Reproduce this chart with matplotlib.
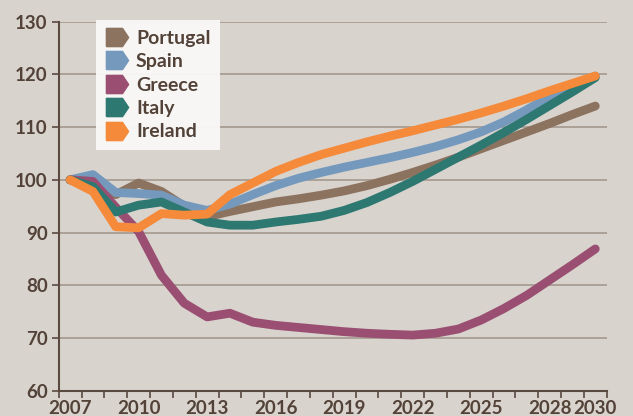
import numpy as np
import matplotlib.pyplot as plt
from matplotlib.lines import Line2D

# data (index, 2007 = 100)
years = list(range(2007, 2031))
portugal = [100, 99.6, 97.2, 99.4, 97.8, 95.0, 93.0, 94.0, 94.9, 95.8, 96.4, 97.1, 97.9, 98.9,
            100.1, 101.4, 102.8, 104.3, 105.9, 107.5, 109.1, 110.7, 112.4, 114.0]
spain = [100, 101.0, 97.6, 97.4, 97.1, 95.2, 94.2, 95.4, 97.2, 98.9, 100.3, 101.4, 102.4, 103.3,
         104.2, 105.2, 106.3, 107.6, 109.1, 111.0, 113.3, 115.8, 117.8, 119.7]
greece = [100, 99.7, 94.8, 90.2, 81.9, 76.6, 74.0, 74.7, 73.0, 72.4, 72.0, 71.6, 71.2, 70.9,
          70.7, 70.55, 70.9, 71.7, 73.4, 75.6, 78.1, 81.0, 83.9, 86.9]
italy = [100, 98.7, 93.9, 95.2, 95.8, 93.9, 92.0, 91.4, 91.4, 92.0, 92.5, 93.1, 94.2, 95.7,
         97.6, 99.7, 102.0, 104.3, 106.6, 109.0, 111.5, 114.1, 116.7, 119.4]
ireland = [100, 97.8, 91.1, 90.9, 93.6, 93.3, 93.5, 97.2, 99.4, 101.6, 103.3, 104.8, 106.0, 107.2,
           108.3, 109.3, 110.4, 111.5, 112.7, 114.0, 115.4, 116.9, 118.3, 119.7]

names = ["Portugal", "Spain", "Greece", "Italy", "Ireland"]
colors = ["#8C7360", "#7499BD", "#9A4F72", "#2E7872", "#F58A3A"]
series = [portugal, spain, greece, italy, ireland]

label_years = [2007, 2010, 2013, 2016, 2019, 2022, 2025, 2028, 2030]
y_ticks = [60, 70, 80, 90, 100, 110, 120, 130]

bg = "#D9D3CE"
text_col = "#524238"
plt.rcParams["font.family"] = ["Lato", "DejaVu Sans"]
plt.rcParams["font.weight"] = "bold"

fig = plt.figure(figsize=(6.33, 4.16), dpi=100, facecolor=bg)
ax = fig.add_axes([0.0927, 0.0608, 0.8658, 0.887])
ax.set_facecolor(bg)

for vals, c in zip(series, colors):
    ax.plot(years, vals, color=c, lw=6.3, solid_capstyle="round",
            solid_joinstyle="round", zorder=3)

ax.set_xlim(2006.5, 2030.5)
ax.set_ylim(60, 130)

for v in y_ticks[1:]:
    ax.axhline(v, color="#A99D92", lw=1.3, zorder=1)

for s in ["top", "right"]:
    ax.spines[s].set_visible(False)
for s in ["left", "bottom"]:
    ax.spines[s].set_color("#5A4A40")
    ax.spines[s].set_linewidth(1.5)
    ax.spines[s].set_zorder(4)

ax.set_yticks(y_ticks)
ax.set_xticks(label_years)
ax.set_xticks(np.arange(2006.5, 2031, 1), minor=True)
ax.tick_params(axis="x", which="major", length=0, pad=7, labelsize=13.5, colors=text_col)
ax.tick_params(axis="x", which="minor", length=5, width=1.2, color="#5A4A40")
ax.tick_params(axis="y", length=5, width=1.2, color="#5A4A40", pad=3,
               labelsize=13.5, labelcolor=text_col)

tag = [(-1, -0.82), (0.45, -0.82), (1, 0), (0.45, 0.82), (-1, 0.82), (-1, -0.82)]
handles = [Line2D([], [], marker=tag, linestyle="none", markersize=16,
                  markerfacecolor=c, markeredgecolor=c) for c in colors]
leg = fig.legend(handles, names, loc="upper left", bbox_to_anchor=(0.1517, 0.952),
                 borderaxespad=0, frameon=True, fancybox=False, fontsize=14,
                 handlelength=1.15, handletextpad=0.4, labelspacing=0.33,
                 borderpad=0.5, labelcolor=text_col)
leg.get_frame().set_facecolor("#FAF9F8")
leg.get_frame().set_edgecolor("none")
leg.get_frame().set_alpha(0.95)

fig.savefig("out.png", dpi=100, facecolor=bg)
